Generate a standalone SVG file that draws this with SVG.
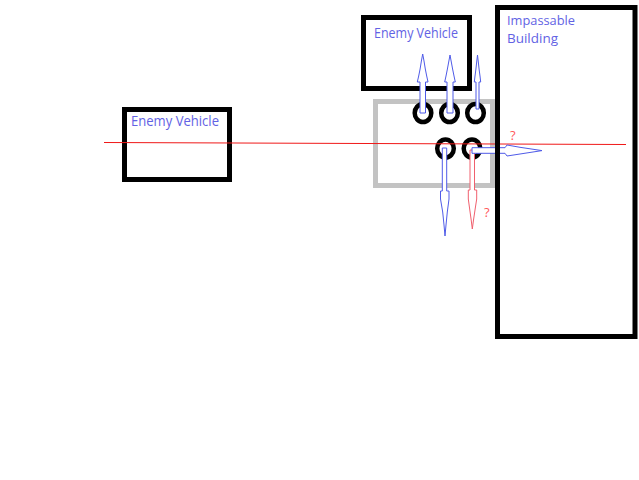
<svg xmlns="http://www.w3.org/2000/svg" width="639" height="480" viewBox="0 0 639 480">
<style>
.box{fill:none;stroke:#000;stroke-width:5}
.gray{fill:none;stroke:#c3c3c3;stroke-width:5}
.ring{fill:none;stroke:#000;stroke-width:4.5}
.blue{fill:#fff;stroke:#4f5be8;stroke-width:1}
.red{fill:#fff;stroke:#f0606e;stroke-width:1}
.lbl{font-family:"Open Sans","Noto Sans",sans-serif;font-size:14px;fill:#6262e4}
.sm{font-size:13px}
.q{font-family:"Open Sans","Noto Sans",sans-serif;font-size:13px;fill:#ff5a5a}
</style>
<rect width="639" height="480" fill="#fff"/>
<g id="zone"><rect class="gray" x="375.5" y="101.5" width="117" height="84"/></g>
<g id="enemy-left"><rect class="box" x="124.5" y="109.5" width="105" height="70"/></g>
<g id="enemy-top"><rect class="box" x="363.5" y="17.5" width="106" height="71"/></g>
<g id="wheels">
<ellipse class="ring" cx="423" cy="113" rx="8.3" ry="9"/>
<ellipse class="ring" cx="449.5" cy="113" rx="8.3" ry="9"/>
<ellipse class="ring" cx="475.5" cy="113" rx="8.3" ry="9"/>
<ellipse class="ring" cx="445.5" cy="148.5" rx="8.3" ry="9"/>
<ellipse class="ring" cx="472" cy="148.5" rx="8.3" ry="9"/>
</g>
<g id="connectors">
<line x1="104" y1="142.5" x2="626" y2="144.5" stroke="#f01818" stroke-width="1"/>
<polygon class="blue" points="422.7,54 424,61 425.3,69 426.7,76 428,82 425.5,82 425.5,113 420,113 420,82 417.3,82 418.7,76 420.1,69 421.4,61"/>
<polygon class="blue" points="450,55 451.3,62 452.6,69 454,76 455.3,82 453,82 453,113 447,113 447,82 444.7,82 446,76 447.4,69 448.7,62"/>
<polygon class="blue" points="477.5,55 478.3,62 479.2,70 480,76 480.7,82 479,82 479,109 476,109 476,82 474.3,82 475,76 475.8,70 476.7,62"/>
<polygon class="blue" points="442.3,148 446.7,148 446.7,191 449,191 449,199 447.3,212 446,225 445,236 444,225 442.7,212 440.5,199 440.5,191 442.3,191"/>
<polygon class="red" points="470,150 474.5,150 474.5,190 476.7,190 476.7,199 475,210 473.5,220 472.3,229 471.2,220 469.8,210 468.3,199 468.3,190 470,190"/>
<polygon class="blue" points="472,147.7 505,147.7 507,145 520,147.3 542,150.6 520,154 507,156 505,153.3 472,153.3"/>
</g>
<g id="building"><rect class="box" x="497.5" y="7.5" width="137.5" height="329"/></g>
<g id="labels">
<text class="lbl" x="131" y="126" textLength="88" lengthAdjust="spacingAndGlyphs">Enemy Vehicle</text>
<text class="lbl" x="374" y="38" textLength="84" lengthAdjust="spacingAndGlyphs">Enemy Vehicle</text>
<text class="lbl sm" x="507" y="25" textLength="68" lengthAdjust="spacingAndGlyphs">Impassable</text>
<text class="lbl sm" x="507" y="43" textLength="51" lengthAdjust="spacingAndGlyphs">Building</text>
<text class="q" x="510" y="140">?</text>
<text class="q" x="484" y="217">?</text>
</g>
</svg>
